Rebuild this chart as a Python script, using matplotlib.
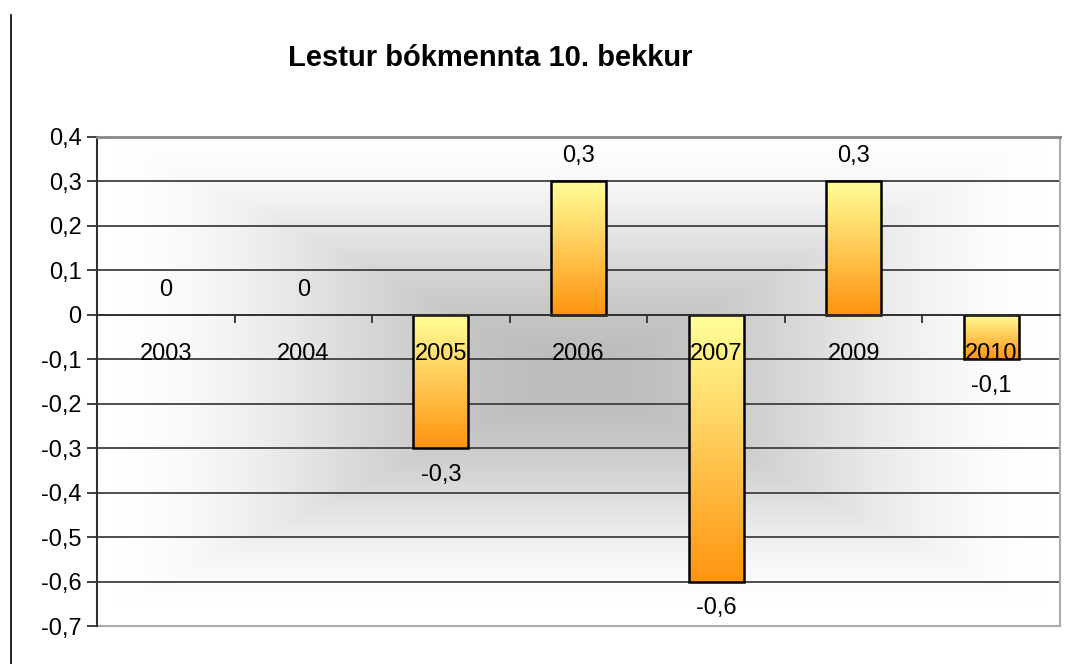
import numpy as np
import matplotlib
matplotlib.use("Agg")
import matplotlib.pyplot as plt
from matplotlib.colors import LinearSegmentedColormap
from matplotlib.lines import Line2D
from matplotlib.ticker import FixedLocator, FuncFormatter

plt.rcParams['font.family'] = ['Liberation Sans', 'DejaVu Sans']

# ---- data ----
title = "Lestur bókmennta 10. bekkur"
categories = ["2003", "2004", "2005", "2006", "2007", "2009", "2010"]
values = [0, 0, -0.3, 0.3, -0.6, 0.3, -0.1]
yticks = [0.4, 0.3, 0.2, 0.1, 0, -0.1, -0.2, -0.3, -0.4, -0.5, -0.6, -0.7]

def fmt(v):
    if abs(v) < 1e-9:
        return "0"
    return f"{v:.1f}".replace(".", ",")

FS = 17

fig = plt.figure(figsize=(10.74, 6.64), dpi=100)
ax = fig.add_axes([97/1074, 1-626/664, (1060-97)/1074, (626-137)/664])

x = np.arange(len(categories))

# background gradient (rectangular from centre: grey -> white)
ny, nx = 400, 800
gx = np.linspace(-1, 1, nx)
gy = np.linspace(-1, 1, ny) + 0.03
GX, GY = np.meshgrid(gx, gy)
t = np.clip(np.maximum(np.abs(GX), np.abs(GY)), 0, 1)
t = 3 * t**2 - 2 * t**3
bgcmap = LinearSegmentedColormap.from_list("bg", ["#bcbcbc", "#ffffff"])
ax.imshow(t, cmap=bgcmap, vmin=0, vmax=1, extent=(0, 1, 0, 1),
          transform=ax.transAxes, aspect='auto', zorder=0, interpolation='bilinear')

# grid
ax.set_axisbelow(True)
ax.yaxis.set_major_locator(FixedLocator(yticks))
ax.yaxis.set_major_formatter(FuncFormatter(lambda v, p: fmt(v)))
ax.grid(axis='y', color='#404040', linewidth=1.3, zorder=0.5)
ax.grid(axis='x', visible=False)

# bars with vertical gradient
barcmap = LinearSegmentedColormap.from_list("bar", ["#ff9410", "#ffff99"])
grad = np.linspace(0, 1, 256).reshape(-1, 1)
bars = ax.bar(x, values, width=0.4, facecolor='none', edgecolor='black',
              linewidth=1.8, zorder=3)
for b in bars:
    h = b.get_height()
    if abs(h) < 1e-9:
        b.set_linewidth(0)
        continue
    x0 = b.get_x()
    w = b.get_width()
    y0 = min(b.get_y(), b.get_y() + h)
    y1 = max(b.get_y(), b.get_y() + h)
    im = ax.imshow(grad, cmap=barcmap, origin='lower', extent=(x0, x0 + w, y0, y1),
                   aspect='auto', zorder=2, interpolation='bilinear')
    im.set_clip_path(b)

ax.set_xlim(-0.5, len(categories) - 0.5)
ax.set_ylim(min(yticks), max(yticks))

# data labels
for xi, v in zip(x, values):
    off = 18 if v >= 0 else -19
    ax.annotate(fmt(v), xy=(xi, v), xytext=(0, off), textcoords='offset points',
                ha='center', va='center', fontsize=FS, color='black', zorder=6)

# category labels (drawn above bars)
for xi, c in zip(x, categories):
    ax.annotate(c, xy=(xi, 0), xytext=(0, -28), textcoords='offset points',
                ha='center', va='center', fontsize=FS, color='black', zorder=6)

# x axis at zero with ticks at category boundaries
ax.spines['bottom'].set_position(('data', 0))
ax.spines['bottom'].set_color('#303030')
ax.spines['bottom'].set_linewidth(1.3)
ax.set_xticks(np.arange(len(categories) + 1) - 0.5)
ax.set_xticklabels([])
ax.tick_params(axis='x', direction='out', length=6, width=1.3, color='#303030')

ax.spines['left'].set_color('#303030')
ax.spines['left'].set_linewidth(1.5)
ax.spines['top'].set_color('#888888')
ax.spines['top'].set_linewidth(2)
ax.spines['right'].set_color('#aaaaaa')
ax.spines['right'].set_linewidth(1.5)
ax.tick_params(axis='y', direction='out', length=7, width=1.3, color='#303030',
               labelsize=FS, pad=4)
for s in ax.spines.values():
    s.set_zorder(4)

# bottom frame of plot area
ax.plot([0, 1], [0, 0], transform=ax.transAxes, color='#aaaaaa', linewidth=1.5,
        clip_on=False, zorder=4)

# title
fig.text(490/1074, 1 - 58/664, title, ha='center', va='center',
         fontsize=21, fontweight='bold')

# left border line
fig.add_artist(Line2D([11/1074, 11/1074], [0, 1 - 15/664], color='black', linewidth=1.2))

fig.savefig("out.png", dpi=100)
